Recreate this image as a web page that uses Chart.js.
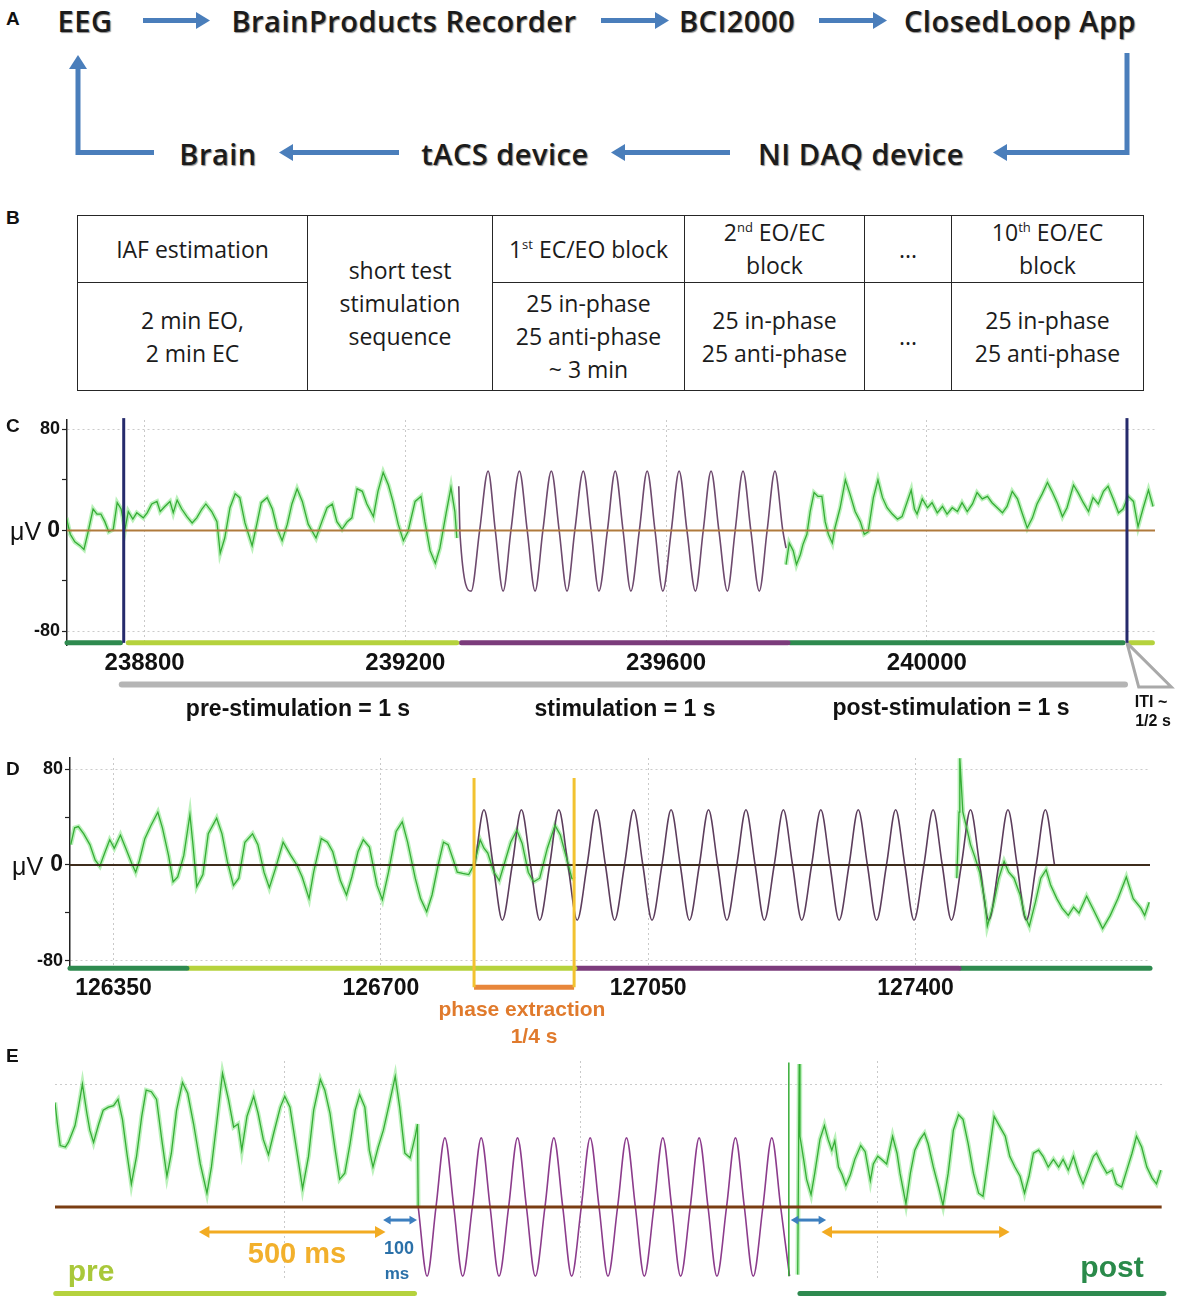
<!DOCTYPE html>
<html>
<head>
<meta charset="utf-8">
<script src="https://cdn.jsdelivr.net/npm/chart.js@4.4.1/dist/chart.umd.min.js"></script>
<style>
  body { margin: 0; background: #fff; }
  #page { position: relative; width: 1181px; height: 1300px; overflow: hidden; font-family: "Liberation Sans", Arial, sans-serif; color: #111; }
  canvas { position: absolute; left: 0; }
  .t { position: absolute; white-space: nowrap; line-height: 1; transform: translate(-50%, -50%); font-weight: bold; }
  .panel { position: absolute; font-weight: bold; font-size: 19px; line-height: 1; }
  .flow { position: absolute; white-space: nowrap; line-height: 1; transform: translate(-50%, -50%);
          font-family: "Open Sans", sans-serif; font-weight: 600; font-size: 29px; letter-spacing: 0.5px; color: #1b1b1b;
          text-shadow: 1px 1px 1px rgba(0,0,0,0.45); }
  table.seq { position: absolute; left: 77px; top: 215px; border-collapse: collapse; table-layout: fixed;
              font-family: "Open Sans", sans-serif; font-size: 23px; color: #1b1b1b; }
  table.seq td { border: 1.6px solid #262626; text-align: center; vertical-align: middle; line-height: 33px; padding: 0; }
  table.seq sup { font-size: 13px; line-height: 0; vertical-align: 9px; }
  .uv { position: absolute; font-size: 25px; line-height: 1; transform: translateY(-50%); }
</style>
</head>
<body>
<div id="page">

<!-- A: processing loop -->
<svg width="1181" height="185" style="position:absolute;left:0;top:0">
  <g stroke="#4a7ebb" stroke-width="5" fill="none">
    <line x1="143" y1="20.5" x2="197" y2="20.5"/>
    <line x1="601" y1="20.5" x2="656" y2="20.5"/>
    <line x1="819" y1="20.5" x2="874" y2="20.5"/>
    <polyline points="1127,53 1127,152.5 1006,152.5"/>
    <line x1="730" y1="152.5" x2="624" y2="152.5"/>
    <line x1="399" y1="152.5" x2="292" y2="152.5"/>
    <polyline points="154,152.5 78,152.5 78,68"/>
  </g>
  <g fill="#4a7ebb">
    <polygon points="196,12 210,20.5 196,29"/>
    <polygon points="655,12 669,20.5 655,29"/>
    <polygon points="873,12 887,20.5 873,29"/>
    <polygon points="1007,144 993,152.5 1007,161"/>
    <polygon points="625,144 611,152.5 625,161"/>
    <polygon points="293,144 279,152.5 293,161"/>
    <polygon points="69,69 78,55 87,69"/>
  </g>
</svg>
<div class="panel" style="left:6px;top:9px">A</div>
<div class="flow" style="left:85px;top:20px">EEG</div>
<div class="flow" style="left:404px;top:20px">BrainProducts Recorder</div>
<div class="flow" style="left:737px;top:20px">BCI2000</div>
<div class="flow" style="left:1020px;top:20px">ClosedLoop App</div>
<div class="flow" style="left:218px;top:153px">Brain</div>
<div class="flow" style="left:505px;top:153px">tACS device</div>
<div class="flow" style="left:861px;top:153px">NI DAQ device</div>

<!-- B: session table -->
<div class="panel" style="left:6px;top:208px">B</div>
<table class="seq">
  <colgroup><col style="width:230px"><col style="width:185px"><col style="width:192px"><col style="width:180px"><col style="width:87px"><col style="width:192px"></colgroup>
  <tr style="height:67px">
    <td>IAF estimation</td>
    <td rowspan="2">short test<br>stimulation<br>sequence</td>
    <td>1<sup>st</sup> EC/EO block</td>
    <td>2<sup>nd</sup> EO/EC<br>block</td>
    <td>...</td>
    <td>10<sup>th</sup> EO/EC<br>block</td>
  </tr>
  <tr style="height:108px">
    <td>2 min EO,<br>2 min EC</td>
    <td>25 in-phase<br>25 anti-phase<br>~ 3 min</td>
    <td>25 in-phase<br>25 anti-phase</td>
    <td>...</td>
    <td>25 in-phase<br>25 anti-phase</td>
  </tr>
</table>

<canvas id="chartC" width="1181" height="330" style="top:405px"></canvas>
<canvas id="chartD" width="1181" height="300" style="top:745px"></canvas>
<canvas id="chartE" width="1181" height="255" style="top:1045px"></canvas>

<div class="panel" style="left:6px;top:416px">C</div>
<div class="uv" style="left:10px;top:531px">μV</div>
<div class="t" style="left:298px;top:708px;font-size:23px">pre-stimulation = 1 s</div>
<div class="t" style="left:625px;top:708px;font-size:23px">stimulation = 1 s</div>
<div class="t" style="left:951px;top:707px;font-size:23px">post-stimulation = 1 s</div>
<div class="t" style="left:1151px;top:702px;font-size:16px">ITI ~</div>
<div class="t" style="left:1153px;top:721px;font-size:16px">1/2 s</div>

<div class="panel" style="left:6px;top:759px">D</div>
<div class="uv" style="left:12px;top:866px">μV</div>
<div class="t" style="left:522px;top:1008px;font-size:21px;color:#e07a2c">phase extraction</div>
<div class="t" style="left:534px;top:1035px;font-size:21px;color:#e07a2c">1/4 s</div>

<div class="panel" style="left:6px;top:1046px">E</div>
<div class="t" style="left:297px;top:1253px;font-size:29px;color:#f2b02c">500 ms</div>
<div class="t" style="left:399px;top:1248px;font-size:18px;color:#2a70a8">100</div>
<div class="t" style="left:397px;top:1273px;font-size:17px;color:#2a70a8">ms</div>
<div class="t" style="left:91px;top:1271px;font-size:30px;color:#a9c83a">pre</div>
<div class="t" style="left:1112px;top:1267px;font-size:30px;color:#2a8a4a">post</div>

</div>
<script>
// ---------- panel C (sample numbers, µV) ----------
const cTicksX = [238800, 239200, 239600, 240000];
const cTicksY = [-80, -60, -40, -20, 0, 20, 40, 60, 80];
const cPre = [[238680,10],[238686,-3],[238693,-9],[238701,-12],[238707,-15],[238713,-2],[238721,17],[238727,13],[238733,13],[238739,7],[238745,-1],[238752,1],[238758,22],[238764,17],[238770,1],[238775,15],[238782,9],[238788,14],[238798,10],[238804,14],[238811,21],[238819,23],[238824,15],[238831,19],[238839,23],[238844,14],[238850,24],[238857,17],[238865,11],[238873,6],[238880,10],[238888,17],[238894,21],[238903,15],[238911,7],[238916,-18],[238923,-6],[238931,18],[238939,29],[238946,26],[238954,6],[238965,-12],[238973,7],[238979,22],[238988,26],[238996,17],[239003,2],[239011,-8],[239019,5],[239026,21],[239034,33],[239042,23],[239051,5],[239063,-6],[239072,7],[239080,18],[239088,21],[239095,7],[239103,1],[239111,7],[239118,10],[239126,33],[239134,31],[239141,21],[239151,11],[239158,31],[239166,46],[239174,36],[239181,23],[239189,5],[239197,-8],[239204,-1],[239215,23],[239224,27],[239230,7],[239238,-16],[239246,-26],[239253,-14],[239263,15],[239270,34],[239276,15],[239279,-6]];
const cStim = [[239282,35],[239284,-4],[239301,-48],[239314,0],[239327,47],[239338,0],[239350,-48],[239362,0],[239375,47],[239387,0],[239399,-48],[239411,0],[239424,47],[239436,0],[239448,-48],[239460,0],[239473,47],[239485,0],[239497,-48],[239510,0],[239522,47],[239534,0],[239546,-48],[239559,0],[239571,47],[239583,0],[239595,-48],[239608,0],[239620,47],[239632,0],[239645,-48],[239657,0],[239669,47],[239681,0],[239694,-48],[239706,0],[239718,47],[239730,0],[239743,-48],[239755,0],[239767,47],[239779,0],[239784,-14]];
const cPost = [[239784,-27],[239789,-10],[239795,-16],[239800,-27],[239806,-19],[239810,-11],[239816,-3],[239821,15],[239827,30],[239833,27],[239839,27],[239844,7],[239849,-3],[239855,-10],[239859,2],[239867,18],[239875,40],[239882,29],[239890,15],[239898,7],[239904,-3],[239910,-1],[239918,26],[239925,40],[239932,26],[239939,18],[239947,13],[239955,9],[239962,11],[239970,23],[239976,32],[239981,17],[239985,13],[239993,25],[240001,18],[240008,22],[240016,14],[240024,19],[240031,13],[240039,18],[240047,15],[240054,22],[240062,15],[240070,21],[240077,30],[240085,25],[240093,27],[240100,22],[240108,18],[240116,14],[240123,19],[240131,31],[240139,25],[240146,14],[240154,2],[240162,10],[240169,21],[240177,29],[240185,38],[240192,31],[240200,22],[240208,11],[240215,18],[240225,36],[240232,30],[240240,22],[240248,15],[240255,26],[240263,21],[240271,31],[240278,35],[240286,25],[240294,14],[240301,17],[240309,27],[240317,23],[240324,3],[240332,18],[240340,32],[240347,19]];
const cPhaseFrom = [238681, 238775, 239286, 239790, 240312];
const cPhaseTo   = [238763, 239279, 239787, 240301, 240346];
const cPhaseKind = ['post', 'pre', 'stim', 'post', 'pre'];
const cTrialOnsets = [238768, 240307];
const cTrialSpan = [238765, 240304];

// ---------- panel D ----------
const dTicksX = [126350, 126700, 127050, 127400];
const dTicksY = [-80, -60, -40, -20, 0, 20, 40, 60, 80];
const dPre = [[126294,17],[126299,31],[126304,32],[126311,26],[126319,17],[126326,4],[126332,-1],[126339,11],[126345,21],[126351,14],[126359,25],[126366,14],[126374,1],[126379,-6],[126384,4],[126391,22],[126399,33],[126408,44],[126414,31],[126422,8],[126428,-14],[126434,-10],[126442,8],[126450,42],[126454,17],[126459,-18],[126467,-8],[126474,26],[126485,39],[126492,26],[126499,3],[126507,-17],[126514,-11],[126522,19],[126532,26],[126539,17],[126547,-6],[126554,-19],[126562,-3],[126572,19],[126582,8],[126590,0],[126597,-10],[126606,-28],[126612,-6],[126622,22],[126630,19],[126637,11],[126647,-13],[126655,-25],[126662,-10],[126670,11],[126677,21],[126685,15],[126695,-17],[126702,-29],[126710,-6],[126720,28],[126728,36],[126735,19],[126745,-11],[126752,-28],[126760,-39],[126767,-25],[126775,0],[126782,19],[126788,17],[126795,4],[126800,-6],[126807,-7],[126815,-8],[126822,0],[126830,21],[126835,14],[126840,10],[126848,-6],[126855,-13],[126863,4],[126870,19],[126878,29],[126885,18],[126893,-6],[126900,-14],[126908,-11],[126918,14],[126928,33],[126935,25],[126943,6],[126950,-11],[126954,-12]];
const dStim = [[126823,0],[126835,46],[126847,0],[126859,-46],[126872,0],[126884,46],[126896,0],[126908,-46],[126921,0],[126933,46],[126945,0],[126957,-46],[126970,0],[126982,46],[126994,0],[127006,-46],[127019,0],[127031,46],[127043,0],[127055,-46],[127068,0],[127080,46],[127092,0],[127104,-46],[127117,0],[127129,46],[127141,0],[127153,-46],[127166,0],[127178,46],[127190,0],[127202,-46],[127215,0],[127227,46],[127239,0],[127251,-46],[127264,0],[127276,46],[127288,0],[127300,-46],[127313,0],[127325,46],[127337,0],[127349,-46],[127362,0],[127374,46],[127386,0],[127398,-46],[127411,0],[127423,46],[127435,0],[127447,-46],[127460,0],[127472,46],[127484,0],[127496,-46],[127509,0],[127521,46],[127533,0],[127545,-46],[127558,0],[127570,46],[127582,0]];
const dPost = [[127454,-11],[127457,44],[127458,89],[127462,44],[127467,31],[127472,17],[127477,8],[127484,-6],[127491,-31],[127494,-51],[127502,-33],[127509,-11],[127516,3],[127522,-6],[127529,-11],[127537,-25],[127543,-42],[127549,-51],[127557,-31],[127564,-11],[127571,-4],[127577,-17],[127585,-28],[127592,-36],[127600,-42],[127607,-35],[127614,-40],[127624,-26],[127632,-36],[127645,-53],[127655,-42],[127665,-28],[127676,-10],[127685,-28],[127695,-36],[127700,-42],[127706,-31]];
const dPhaseFrom = [126293, 126448, 126956, 127459];
const dPhaseTo   = [126446, 126954, 127457, 127707];
const dPhaseKind = ['post', 'pre', 'stim', 'post'];
const dExtraction = [126822, 126953];

// ---------- panel E ----------
const eGridX = [400, 800, 1200];
const eGridY = [80];
const ePre = [[91,68],[94,55],[98,40],[105,39],[109,42],[114,48],[118,53],[122,63],[128,80],[134,61],[138,50],[143,42],[150,54],[156,63],[163,65],[170,66],[176,70],[182,57],[188,35],[194,15],[201,33],[208,59],[214,76],[221,75],[228,70],[235,44],[242,20],[248,35],[255,63],[263,81],[270,74],[278,54],[287,28],[296,9],[302,26],[309,54],[317,87],[325,70],[332,52],[338,54],[343,37],[350,59],[359,72],[365,61],[372,44],[379,34],[386,48],[395,65],[401,72],[408,65],[417,37],[425,12],[433,33],[440,63],[449,83],[455,76],[462,61],[469,37],[475,18],[482,22],[489,41],[496,63],[502,73],[509,65],[515,37],[520,26],[527,39],[534,50],[541,65],[550,85],[556,65],[563,35],[570,32],[577,46],[580,54],[581,0]];
const eStim = [[581,0],[593,-45],[605,0],[617,45],[629,0],[641,-45],[654,0],[666,45],[678,0],[690,-45],[703,0],[715,45],[727,0],[739,-45],[752,0],[764,45],[776,0],[788,-45],[801,0],[813,45],[825,0],[837,-45],[850,0],[862,45],[874,0],[886,-45],[899,0],[911,45],[923,0],[935,-45],[948,0],[960,45],[972,0],[984,-45],[997,0],[1009,45],[1021,0],[1033,-45],[1046,0],[1058,45],[1070,0],[1082,-45]];
const ePost = [[1093,-44],[1095,93],[1096,46],[1101,31],[1105,18],[1111,8],[1116,22],[1123,44],[1129,53],[1134,44],[1139,37],[1143,43],[1148,26],[1153,21],[1158,14],[1164,21],[1170,31],[1178,40],[1184,36],[1191,17],[1195,28],[1201,33],[1206,31],[1213,28],[1221,46],[1227,35],[1231,22],[1239,2],[1245,22],[1251,37],[1258,44],[1264,48],[1269,41],[1276,26],[1283,13],[1289,1],[1296,22],[1303,50],[1310,60],[1316,57],[1323,41],[1330,22],[1337,9],[1343,7],[1350,31],[1358,59],[1366,52],[1373,46],[1379,33],[1386,26],[1393,20],[1399,9],[1405,20],[1411,35],[1418,37],[1424,33],[1431,26],[1438,31],[1445,26],[1451,31],[1458,24],[1465,33],[1472,22],[1478,15],[1485,24],[1492,33],[1496,35],[1503,28],[1510,22],[1517,24],[1523,15],[1530,13],[1537,24],[1544,35],[1550,46],[1557,39],[1564,26],[1571,19],[1577,15],[1583,24]];
const eOffsetMark = 1081;
const ePhaseFrom = [92, 1096];
const ePhaseTo   = [576, 1587];
const ePhaseKind = ['pre', 'post'];
const eWindows = [[287, 535], [1127, 1377]];   // 500 ms
const eGaps    = [[535, 578], [1085, 1130]];   // 100 ms

// ---------- drawing ----------
const FONT = '"Liberation Sans", Arial, sans-serif';
Chart.defaults.font.family = FONT;
const PHASE_COLOR = { pre: '#b5d23d', stim: '#7b3b7b', post: '#2e8a4f' };
const GREEN = '#36ad36', GLOW = 'rgba(120,228,120,0.5)';

const pts = a => a.map(p => ({ x: p[0], y: p[1] }));
function ds(data, color, width, extra) {
  return Object.assign({ data: pts(data), borderColor: color, backgroundColor: color, borderWidth: width,
    pointRadius: 0, tension: 0, fill: false }, extra || {});
}
const bars = (from, to, kind, level) =>
  from.map((f, i) => ds([[f, level], [to[i], level]], PHASE_COLOR[kind[i]], 5, { clip: false, borderCapStyle: 'round' }));
const core = a => ds(a, GREEN, 1.3);
const glow = a => ds(a, GLOW, 4.5);
const sine = (a, color) => ds(a, color, 1.6, { cubicInterpolationMode: 'monotone' });

function options(o) {
  return {
    responsive: false, animation: false, events: [],
    layout: { padding: o.pad },
    plugins: { legend: { display: false }, tooltip: { enabled: false } },
    scales: {
      x: {
        type: 'linear', min: o.x[0], max: o.x[1],
        afterBuildTicks: s => { s.ticks = o.xTicks.map(v => ({ value: v })); },
        afterFit: s => { s.height = o.xh; },
        ticks: { display: o.labels, autoSkip: false, maxRotation: 0, padding: o.xPad, color: '#111',
                 font: { family: FONT, weight: 'bold', size: o.xSize }, callback: v => String(v) },
        grid: { color: '#c9c9c9', lineWidth: 1, drawTicks: false },
        border: { display: false, dash: [2, 3] }
      },
      y: {
        type: 'linear', min: o.y[0], max: o.y[1],
        afterBuildTicks: s => { s.ticks = o.yTicks.map(v => ({ value: v })); },
        afterFit: s => { s.width = o.yw; },
        ticks: { display: o.labels, padding: 2, color: '#111',
                 callback: v => (v % 80 === 0 ? String(v) : ''),
                 font: c => ({ family: FONT, weight: 'bold', size: c.tick && c.tick.value === 0 ? 23 : 18 }) },
        grid: { color: c => (c.tick && Math.abs(c.tick.value) === 80 ? '#cbcbcb' : 'rgba(0,0,0,0)'),
                drawTicks: o.labels, tickLength: 5, tickColor: '#222', tickWidth: 1.2, tickBorderDash: [] },
        border: { display: o.labels, color: '#222', width: 1.5, dash: [2, 3] }
      }
    }
  };
}

// C
const cX = [238681, 240350];
const cBar = -89;
new Chart(document.getElementById('chartC'), {
  type: 'line',
  data: { datasets: [
    ...cTrialOnsets.map(m => ds([[m, cBar], [m, 89]], '#262a6c', 3, { clip: false })),
    ds([[cTrialOnsets[1], cBar], [cTrialOnsets[1] + 18, -124], [cTrialOnsets[1] + 68, -124], [cTrialOnsets[1], cBar]], '#a9a9a9', 3, { clip: false }),
    ds([[cTrialSpan[0], -122], [cTrialSpan[1], -122]], '#b5b5b5', 6, { clip: false, borderCapStyle: 'round' }),
    ...bars(cPhaseFrom, cPhaseTo, cPhaseKind, cBar),
    ds([[cX[0], 0], [cX[1], 0]], '#b07a3c', 2),
    core(cPre), core(cPost),
    sine(cStim, '#6e4a6e'),
    glow(cPre), glow(cPost)
  ] },
  options: options({ pad: { left: 0, right: 26, top: 15, bottom: 60 }, x: cX, xTicks: cTicksX, y: [-90.7, 87.5], yTicks: cTicksY,
                     xh: 30, yw: 67, xPad: 4, xSize: 24, labels: true })
});

// D
const dX = [126293, 127707];
const dBar = -86;
new Chart(document.getElementById('chartD'), {
  type: 'line',
  data: { datasets: [
    ...dExtraction.map(v => ds([[v, 72.5], [v, -102]], '#f2c230', 3, { clip: false })),
    ds([[dExtraction[0], -102], [dExtraction[1], -102]], '#e8863a', 5, { clip: false }),
    ...bars(dPhaseFrom, dPhaseTo, dPhaseKind, dBar),
    ds([[dX[0], 0], [dX[1], 0]], '#3e2c1c', 2),
    core(dPre), core(dPost),
    sine(dStim, '#5c3d5c'),
    glow(dPre), glow(dPost)
  ] },
  options: options({ pad: { left: 0, right: 31, top: 13, bottom: 46 }, x: dX, xTicks: dTicksX, y: [-86.7, 89.2], yTicks: dTicksY,
                     xh: 30, yw: 70, xPad: 6, xSize: 23, labels: true })
});

// E
const eX = [91, 1588.5];
const spp = (eX[1] - eX[0]) / 1110;   // samples per pixel
function arrow(span, level, color, r) {
  const inset = r * spp * 0.8;
  return ds([[span[0] + inset, level], [span[1] - inset, level]], color, 3, {
    clip: false, pointStyle: 'triangle', pointRadius: r, pointBorderWidth: 0,
    pointBackgroundColor: color, pointRotation: c => (c.dataIndex === 0 ? -90 : 90)
  });
}
new Chart(document.getElementById('chartE'), {
  type: 'line',
  data: { datasets: [
    ...eWindows.map(w => arrow(w, -16.3, '#f2ab22', 7)),
    ...eGaps.map(g => arrow(g, -8.5, '#3d7fbf', 5)),
    ...bars(ePhaseFrom, ePhaseTo, ePhaseKind, -56.3),
    ds([[eX[0], 0], [1584, 0]], '#7a3d12', 3),
    ds([[eOffsetMark, -45], [eOffsetMark, 94]], GREEN, 1.5, { clip: false }),
    core(ePre), core(ePost),
    sine(eStim, '#8c3c8c'),
    glow(ePre), glow(ePost)
  ] },
  options: options({ pad: { left: 55, right: 16, top: 16, bottom: 20 }, x: eX, xTicks: eGridX, y: [-47.5, 95], yTicks: eGridY,
                     xh: 0, yw: 0, xPad: 0, xSize: 12, labels: false })
});
</script>
</body>
</html>
